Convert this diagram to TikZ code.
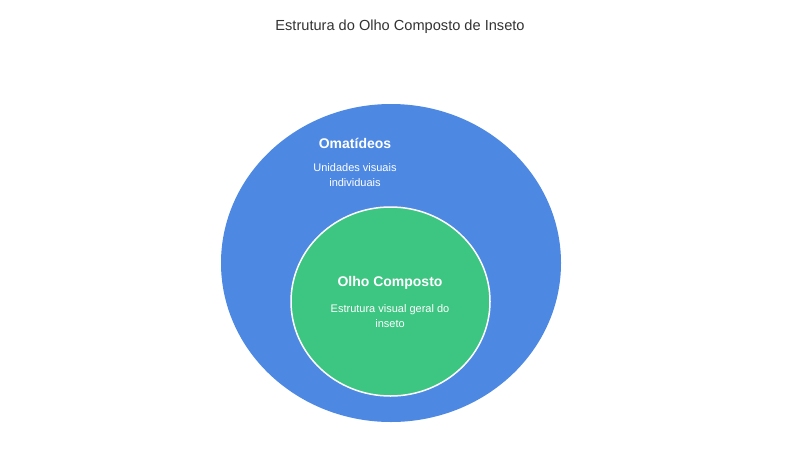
\documentclass[tikz,border=0pt]{standalone}
\usepackage{fontspec}
\setmainfont{Liberation Sans}
\usetikzlibrary{shapes.geometric}
\definecolor{outerblue}{HTML}{4D88E3}
\definecolor{innergreen}{HTML}{3DC582}
\definecolor{titlegray}{HTML}{333333}
\begin{document}
\begin{tikzpicture}[x=1pt,y=-1pt,
  titletxt/.style={font=\fontsize{14.6}{17}\selectfont, text=titlegray},
  headtxt/.style={font=\bfseries\fontsize{14}{16}\selectfont, text=white},
  bodytxt/.style={font=\fontsize{11}{15}\selectfont, text=white, align=center},
  blob/.style={ellipse, inner sep=0pt, outer sep=0pt}]
\useasboundingbox (0,0) rectangle (800,450);
\fill[white] (0,0) rectangle (800,450);
\node[titletxt] (title) at (400,27) {Estrutura do Olho Composto de Inseto};
\node[blob, fill=outerblue, minimum width=340pt, minimum height=318pt] (outer) at (391,263) {};
\node[blob, fill=innergreen, draw=white, line width=1.5pt, minimum width=199pt, minimum height=189pt] (inner) at (390.5,301.5) {};
\node[headtxt] (omhead) at (355,143) {Omatídeos};
\node[bodytxt] (ombody) at (355,175.5) {Unidades visuais\\individuais};
\node[headtxt] (olhead) at (390,283) {Olho Composto};
\node[bodytxt] (olbody) at (390,316) {Estrutura visual geral do\\inseto};
\end{tikzpicture}
\end{document}
